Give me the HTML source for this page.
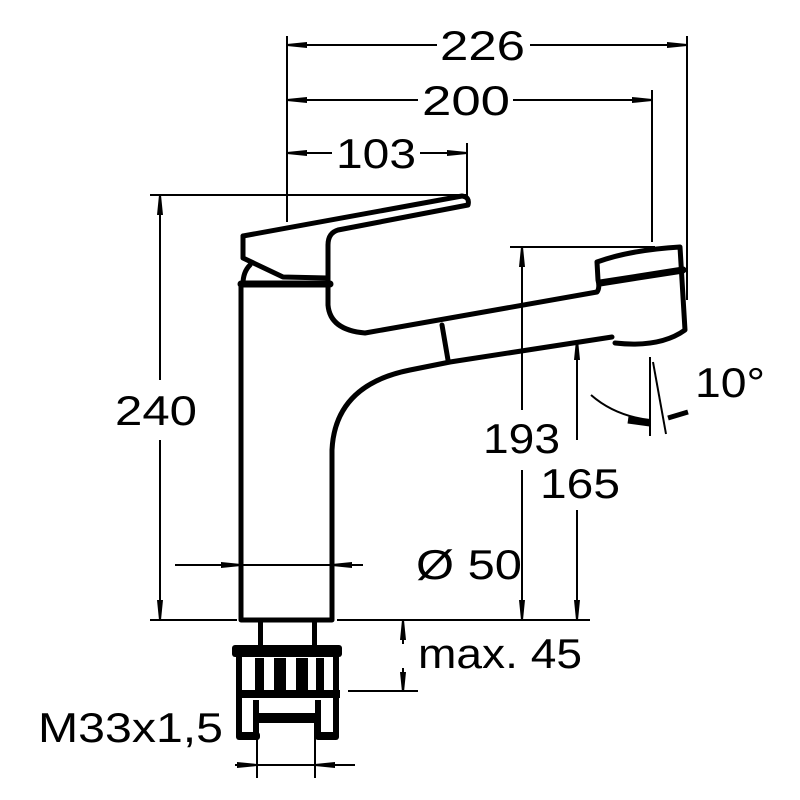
<!DOCTYPE html>
<html><head><meta charset="utf-8"><style>
html,body{margin:0;padding:0;background:#fff}
svg{display:block}
text{font-family:"Liberation Sans",sans-serif;font-size:42px;fill:#000}
</style></head><body>
<svg width="800" height="800" viewBox="0 0 800 800" xmlns="http://www.w3.org/2000/svg">
<defs>
<marker id="a" viewBox="0 0 20 10" refX="20" refY="5" markerWidth="20" markerHeight="10" markerUnits="userSpaceOnUse" orient="auto"><path d="M0,2 L20,4 L20,6 L0,8 Z" fill="#000"/></marker>
</defs>
<g stroke="#000" stroke-width="2" fill="none">
<line x1="437" y1="45" x2="287" y2="45" marker-end="url(#a)"/>
<line x1="530" y1="45" x2="687" y2="45" marker-end="url(#a)"/>
<line x1="418" y1="100" x2="287" y2="100" marker-end="url(#a)"/>
<line x1="513" y1="100" x2="652" y2="100" marker-end="url(#a)"/>
<line x1="332" y1="153" x2="287" y2="153" marker-end="url(#a)"/>
<line x1="420" y1="153" x2="467" y2="153" marker-end="url(#a)"/>
<line x1="287" y1="36" x2="287" y2="222"/>
<line x1="687" y1="36" x2="687" y2="300"/>
<line x1="652" y1="90" x2="652" y2="242"/>
<line x1="467" y1="143" x2="467" y2="196"/>
<line x1="150" y1="195" x2="466" y2="195"/>
<line x1="150" y1="620" x2="237" y2="620"/>
<line x1="337" y1="620" x2="590" y2="620"/>
<line x1="160" y1="380" x2="160" y2="195" marker-end="url(#a)"/>
<line x1="160" y1="440" x2="160" y2="620" marker-end="url(#a)"/>
<line x1="510" y1="247" x2="655" y2="247"/>
<line x1="522" y1="410" x2="522" y2="247" marker-end="url(#a)"/>
<line x1="522" y1="470" x2="522" y2="620" marker-end="url(#a)"/>
<line x1="577" y1="440" x2="577" y2="340" marker-end="url(#a)"/>
<line x1="577" y1="510" x2="577" y2="620" marker-end="url(#a)"/>
<line x1="175" y1="565" x2="241" y2="565" marker-end="url(#a)"/>
<line x1="363" y1="565" x2="332" y2="565" marker-end="url(#a)"/>
<line x1="241" y1="565" x2="332" y2="565"/>
<line x1="403" y1="644" x2="403" y2="620" marker-end="url(#a)"/>
<line x1="403" y1="668" x2="403" y2="692" marker-end="url(#a)"/>
<line x1="348" y1="691" x2="418" y2="691"/>
<line x1="235" y1="765" x2="257" y2="765" marker-end="url(#a)"/>
<line x1="355" y1="765" x2="315" y2="765" marker-end="url(#a)"/>
<line x1="257" y1="765" x2="315" y2="765"/>
<line x1="257" y1="720" x2="257" y2="778"/>
<line x1="315" y1="720" x2="315" y2="778"/>
<line x1="650" y1="357" x2="650" y2="436"/>
<line x1="653" y1="362" x2="666" y2="434"/>
<path d="M591,395 Q615,416 650,420"/>
<line x1="628" y1="420" x2="650" y2="423" stroke-width="7"/>
<line x1="668" y1="418" x2="688" y2="412" stroke-width="5"/>
</g>
<g stroke="#000" stroke-width="5" fill="none" stroke-linejoin="round" stroke-linecap="round">
<path d="M241,284 L241,620 L332,620 L332,450 Q335,385 410,370 L450,362 L612,337"/>
<path d="M243,236 L243,258 L283,277 L328,278"/>
<path d="M243,236 L462,196 Q470,197 468,205 L338,230 Q328,233 328,245 L328,305 Q330,330 365,333 L597,292 Q600,288 598,280 L597,262 Q630,250 680,247 L685,330 Q660,348 615,343"/>
<path d="M241,284 L330,284" stroke-width="7"/>
<path d="M250,265 Q243,272 243,284"/>
<path d="M600,283 L683,270" stroke-width="7"/>
<path d="M442,325 L448,360" stroke-width="5"/>
</g>
<g fill="#000">
<rect x="258" y="622" width="5" height="26"/><rect x="312" y="622" width="5" height="26"/>
<rect x="232" y="645" width="110" height="12" rx="3"/>
<rect x="236" y="655" width="6" height="42"/><rect x="333" y="655" width="6" height="42"/>
<rect x="255" y="658" width="9" height="36"/><rect x="274" y="658" width="12" height="36"/><rect x="296" y="658" width="12" height="36"/><rect x="316" y="658" width="8" height="36"/>
<rect x="236" y="690" width="104" height="8"/>
<rect x="236" y="697" width="6" height="40"/><rect x="333" y="697" width="6" height="40"/>
<rect x="253" y="700" width="6" height="38"/><rect x="315" y="700" width="6" height="38"/>
<rect x="255" y="713" width="62" height="10"/>
<rect x="236" y="732" width="24" height="8" rx="3"/><rect x="315" y="732" width="24" height="8" rx="3"/>
</g>
<g>
<text x="440" y="60" textLength="85" lengthAdjust="spacingAndGlyphs">226</text>
<text x="422" y="115" textLength="88" lengthAdjust="spacingAndGlyphs">200</text>
<text x="336" y="168" textLength="80" lengthAdjust="spacingAndGlyphs">103</text>
<text x="115" y="425" textLength="82" lengthAdjust="spacingAndGlyphs">240</text>
<text x="483" y="453" textLength="77" lengthAdjust="spacingAndGlyphs">193</text>
<text x="540" y="498" textLength="80" lengthAdjust="spacingAndGlyphs">165</text>
<text x="416" y="579" textLength="106" lengthAdjust="spacingAndGlyphs">Ø 50</text>
<text x="418" y="668" textLength="164" lengthAdjust="spacingAndGlyphs">max. 45</text>
<text x="38" y="742" textLength="185" lengthAdjust="spacingAndGlyphs">M33x1,5</text>
<text x="695" y="397" textLength="70" lengthAdjust="spacingAndGlyphs">10°</text>
</g>
</svg>
</body></html>
